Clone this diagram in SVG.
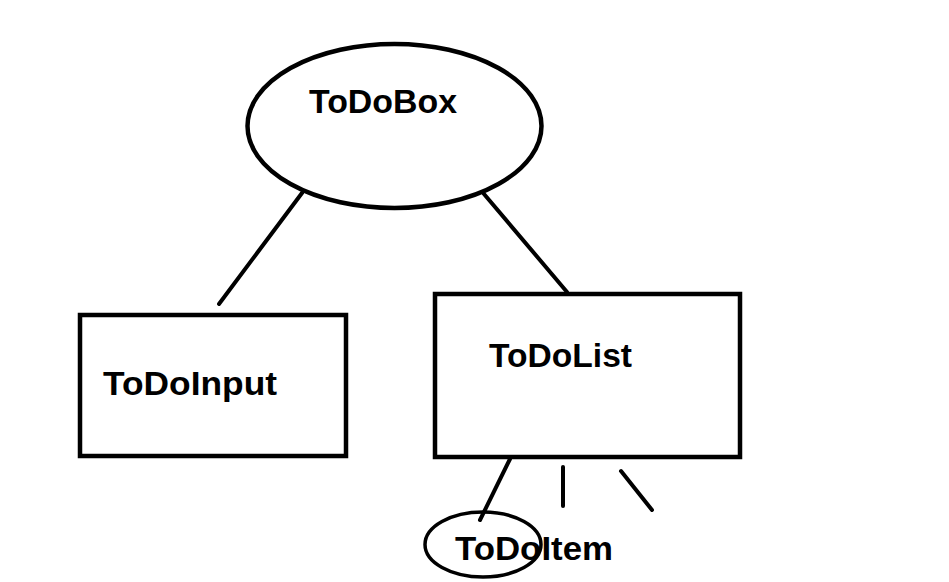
<svg xmlns="http://www.w3.org/2000/svg" width="949" height="582" viewBox="0 0 949 582">
<style>
.shape{fill:none;stroke:#000;stroke-width:4.5}
.thin{stroke-width:3.5}
.lbl{font-family:"Liberation Sans",Arial,sans-serif;font-weight:bold;font-size:34px;fill:#000}
.conn line{stroke:#000;stroke-width:4;stroke-linecap:round}
</style>
<rect width="949" height="582" fill="#fff"/>
<g class="conn" id="connectors">
<line x1="302" y1="193" x2="219" y2="304"/>
<line x1="484" y1="194" x2="567" y2="292"/>
<line x1="510" y1="459" x2="480" y2="520"/>
<line x1="563" y1="467" x2="563" y2="506"/>
<line x1="621" y1="471" x2="652" y2="510"/>
</g>
<g id="todobox">
<ellipse class="shape" cx="394.5" cy="126" rx="147" ry="82"/>
<text class="lbl" x="309" y="113" textLength="148" lengthAdjust="spacingAndGlyphs">ToDoBox</text>
</g>
<g id="todoinput">
<rect class="shape" x="80" y="315" width="266" height="141"/>
<text class="lbl" x="103" y="395" textLength="174" lengthAdjust="spacingAndGlyphs">ToDoInput</text>
</g>
<g id="todolist">
<rect class="shape" x="435" y="294" width="305" height="163"/>
<text class="lbl" x="489" y="367" textLength="143" lengthAdjust="spacingAndGlyphs">ToDoList</text>
</g>
<g id="todoitem">
<ellipse class="shape thin" cx="483" cy="544.5" rx="58" ry="32.5"/>
<text class="lbl" x="455" y="560" textLength="158" lengthAdjust="spacingAndGlyphs">ToDoItem</text>
</g>
</svg>
